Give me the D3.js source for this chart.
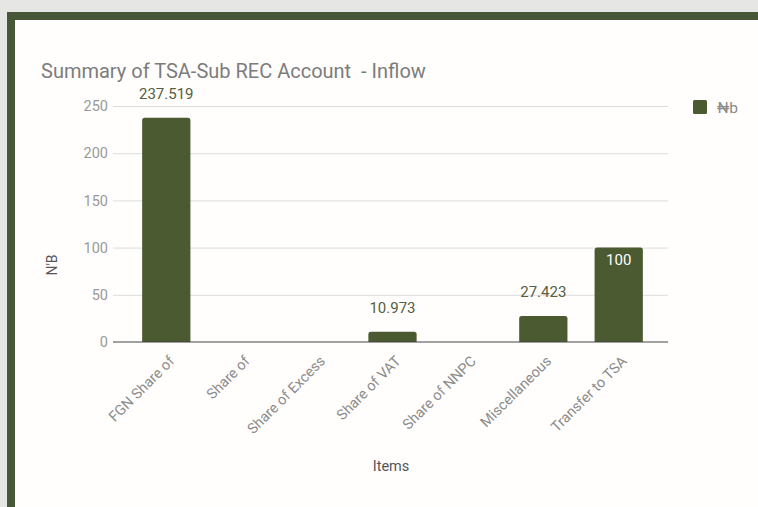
<!DOCTYPE html>
<html>
<head>
<meta charset="utf-8">
<script src="https://cdn.jsdelivr.net/npm/d3@7"></script>
<style>
  html, body { margin: 0; padding: 0; background: #e6e6e4; }
  svg { display: block; font-family: Roboto, "Noto Sans", sans-serif; }
</style>
</head>
<body>
<svg id="chart" width="758" height="507"></svg>
<script>
// Inflow items of the TSA-Sub REC account, in billions of naira
const categories = ["FGN Share of", "Share of", "Share of Excess", "Share of VAT", "Share of NNPC", "Miscellaneous", "Transfer to TSA"];
const values = [237.519, 0, 0, 10.973, 0, 27.423, 100];
const yTicks = [0, 50, 100, 150, 200, 250];
const seriesName = "₦b";

const W = 758, H = 507;
const svg = d3.select("#chart");
const green = "#4b5a30";

// Card with a dark green top and left edge
svg.append("rect").attr("x", 0).attr("y", 0).attr("width", W).attr("height", H).attr("fill", "#e6e6e4");
svg.append("rect").attr("x", 7).attr("y", 12).attr("width", W - 7).attr("height", H - 12).attr("fill", "#48573a");
svg.append("rect").attr("x", 15).attr("y", 20).attr("width", W - 15).attr("height", H - 20).attr("fill", "#fffefc");

const plot = { left: 113, right: 668, top: 106, bottom: 342 };

const x = d3.scaleBand()
  .domain(categories)
  .range([plot.left + 2, plot.right + 2])
  .paddingInner(0.36)
  .paddingOuter(0.36);

const y = d3.scaleLinear()
  .domain([0, 250])
  .range([plot.bottom, plot.top]);

// Title
svg.append("text")
  .attr("x", 41).attr("y", 78)
  .attr("font-size", 20)
  .attr("fill", "#7c7c7c")
  .style("white-space", "pre")
  .text("Summary of TSA-Sub REC Account  - Inflow");

// Gridlines and y tick labels
const yAxis = d3.axisLeft(y).tickValues(yTicks).tickSize(-(plot.right - plot.left)).tickPadding(5);
const gy = svg.append("g").attr("transform", `translate(${plot.left},0)`).call(yAxis);
gy.select(".domain").remove();
gy.selectAll(".tick line").attr("stroke", "#dcdcdc").attr("stroke-width", 1);
gy.selectAll(".tick text").attr("fill", "#9a9a9a").attr("font-size", 14.5).attr("font-family", "Roboto, sans-serif");
gy.selectAll(".tick").filter(d => d === 0).select("line").attr("stroke", "none");

// Bars with slightly rounded tops
const barPath = (d, i) => {
  const x0 = x(categories[i]), w = x.bandwidth();
  const yt = y(d), yb = y(0), r = Math.min(2.5, (yb - yt) / 2);
  if (yb - yt <= 0) return "";
  return `M${x0},${yb} V${yt + r} Q${x0},${yt} ${x0 + r},${yt} H${x0 + w - r} Q${x0 + w},${yt} ${x0 + w},${yt + r} V${yb} Z`;
};
svg.append("g").selectAll("path")
  .data(values)
  .join("path")
  .attr("d", barPath)
  .attr("fill", green);

// Baseline
svg.append("line")
  .attr("x1", plot.left).attr("x2", plot.right)
  .attr("y1", y(0)).attr("y2", y(0))
  .attr("stroke", "#444").attr("stroke-width", 1.2);

// Value labels: the tallest-fitting bar carries its label inside, the others above
const inside = v => v === 100;
svg.append("g").selectAll("text")
  .data(values.map((v, i) => ({ v, i })).filter(d => d.v > 0))
  .join("text")
  .attr("x", d => x(categories[d.i]) + x.bandwidth() / 2)
  .attr("y", d => inside(d.v) ? y(d.v) + 17 : y(d.v) - 19)
  .attr("text-anchor", "middle")
  .attr("font-size", 15)
  .attr("fill", d => inside(d.v) ? "#ffffff" : "#555e40")
  .text(d => String(d.v));

// Category labels, slanted
const gx = svg.append("g");
gx.selectAll("text")
  .data(categories)
  .join("text")
  .attr("transform", d => `translate(${x(d) + x.bandwidth() / 2 + 9},${plot.bottom + 20}) rotate(-45)`)
  .attr("text-anchor", "end")
  .attr("font-size", 14.5)
  .attr("fill", "#8c8c8c")
  .text(d => d);

// Axis titles
svg.append("text")
  .attr("x", 391).attr("y", 471)
  .attr("text-anchor", "middle")
  .attr("font-size", 14.5)
  .attr("fill", "#555555")
  .text("Items");
svg.append("text")
  .attr("transform", "translate(57,265) rotate(-90)")
  .attr("text-anchor", "middle")
  .attr("font-size", 14)
  .attr("fill", "#555555")
  .text("N'B");

// Legend
svg.append("rect")
  .attr("x", 693).attr("y", 100).attr("width", 14).attr("height", 14).attr("rx", 1.5)
  .attr("fill", green);
svg.append("text")
  .attr("x", 717).attr("y", 113)
  .attr("font-size", 15.5)
  .attr("fill", "#8a8a8a")
  .text(seriesName);
</script>
</body>
</html>
